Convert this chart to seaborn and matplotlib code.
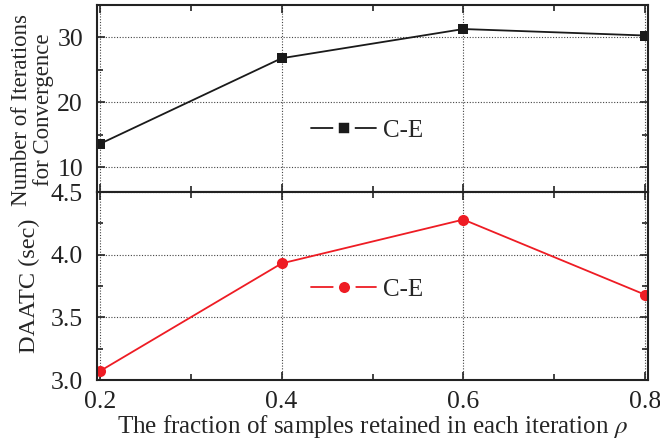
import matplotlib
matplotlib.use("Agg")
import matplotlib.pyplot as plt
import seaborn as sns
import pandas as pd
from matplotlib.ticker import MultipleLocator

rho = [0.2, 0.4, 0.6, 0.8]
iterations = [13.6, 26.8, 31.3, 30.3]
daatc = [3.07, 3.93, 4.28, 3.68]
series_name = "C-E"

sns.set_theme(style="ticks")
plt.rcParams['font.family'] = ['Liberation Serif', 'DejaVu Serif']
plt.rcParams['mathtext.fontset'] = 'stix'

df_top = pd.DataFrame({"rho": rho, "val": iterations, "series": series_name})
df_bot = pd.DataFrame({"rho": rho, "val": daatc, "series": series_name})

fig = plt.figure(figsize=(6.6, 4.44), dpi=100)
ax1 = fig.add_axes([97/660, 1-192/444, (648-97)/660, (192-5)/444])
ax2 = fig.add_axes([97/660, 1-380/444, (648-97)/660, (380-192)/444], sharex=ax1)

sns.lineplot(data=df_top, x="rho", y="val", hue="series", palette=["#1a1a1a"],
             marker="s", markersize=7, markeredgewidth=0, linewidth=1.3, ax=ax1)
sns.lineplot(data=df_bot, x="rho", y="val", hue="series", palette=["#ee1c24"],
             marker="o", markersize=8, markeredgewidth=0, linewidth=1.3, ax=ax2)

for ax in (ax1, ax2):
    ax.set_xlim(0.197, 0.803)
    ax.xaxis.set_major_locator(MultipleLocator(0.2))
    ax.xaxis.set_minor_locator(MultipleLocator(0.1))
    ax.tick_params(which="both", direction="in", top=True, right=True,
                   labelsize=18.5, width=1.2, colors="#222222")
    ax.tick_params(axis="y", pad=10)
    ax.tick_params(axis="x", pad=8)
    ax.tick_params(which="major", length=6)
    ax.tick_params(which="minor", length=4)
    ax.grid(True, which="major", linestyle=(0, (1, 1.5)), color="#444444", linewidth=0.8)
    for s in ax.spines.values():
        s.set_linewidth(1.5)
        s.set_color("#222222")
    ax.set_xlabel("")
    ax.set_ylabel("")

ax1.set_ylim(6.2, 35)
ax1.yaxis.set_major_locator(MultipleLocator(10))
ax1.yaxis.set_minor_locator(MultipleLocator(5))
ax1.tick_params(labelbottom=False)
ax1.set_ylabel("Number of Iterations\nfor Convergence", fontsize=16.5, linespacing=1.05)
ax1.yaxis.set_label_coords(-0.078, 0.44)

ax2.set_ylim(3.0, 4.5)
ax2.yaxis.set_minor_locator(MultipleLocator(0.25))
ax2.set_yticks([3.0, 3.5, 4.0, 4.5])
ax2.set_yticklabels(["3.0", "3.5", "4.0", "4.5"])
ax2.set_xticks(rho)
ax2.set_xticklabels(["0.2", "0.4", "0.6", "0.8"])
ax2.set_ylabel("DAATC (sec)", fontsize=17.5)
ax2.yaxis.set_label_coords(-0.103, 0.5)
ax2.set_xlabel(r"The fraction of samples retained in each iteration $\rho$", fontsize=18, labelpad=0)

for ax, anchor, ms in ((ax1, (0.49, 0.33), 11), (ax2, (0.49, 0.48), 12)):
    leg = ax.legend(loc="center", bbox_to_anchor=anchor, frameon=False, fontsize=18,
                    handlelength=2.6, handletextpad=0.25)
    for h in leg.legend_handles:
        h.set_markersize(ms)
        h.set_markeredgecolor("white")
        h.set_markeredgewidth(4)

fig.savefig("out.png", dpi=100)
